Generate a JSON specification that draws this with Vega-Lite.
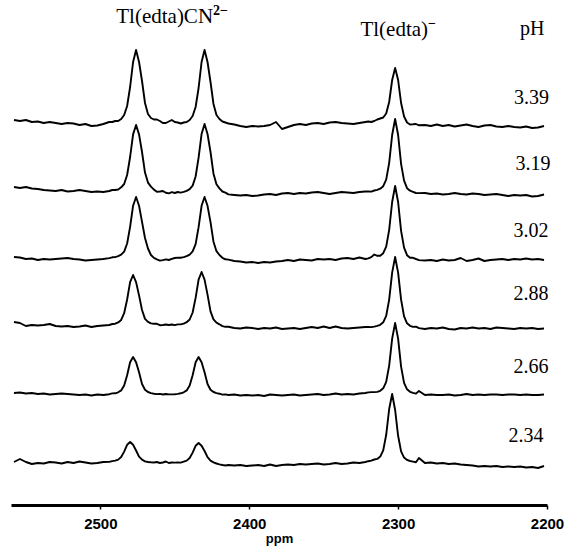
{
"$schema": "https://vega.github.io/schema/vega-lite/v6.json",
"width": 536, "height": 505,
"autosize": {"type": "none"},
"padding": {"left": 11, "top": 0, "right": 20, "bottom": 41},
"background": "white",
"config": {"view": {"stroke": null}},
"encoding": {
  "x": {"field": "x", "type": "quantitative",
    "scale": {"domain": [2200, 2560], "reverse": true, "nice": false, "zero": false},
    "axis": {"values": [2500, 2400, 2300, 2200], "format": "d", "title": "ppm", "grid": false,
      "domainColor": "black", "domainWidth": 3, "tickColor": "black", "tickSize": 4, "tickWidth": 1.5,
      "labelFont": "Liberation Sans", "labelFontSize": 15, "labelFontWeight": "bold", "labelColor": "black",
      "labelPadding": 7, "labelFlush": false, "labelOverlap": false,
      "titleFont": "Liberation Sans", "titleFontSize": 13, "titleFontWeight": "bold", "titleColor": "black", "titlePadding": 1}},
  "y": {"field": "y", "type": "quantitative", "scale": {"domain": [0, 505], "nice": false, "zero": false}, "axis": null}
},
"layer": [
  {
    "data": {"values": [
      {"x":2558,"a":385,"b":318,"c":248,"d":183,"e":112,"f":43},
      {"x":2554,"a":384,"b":317,"c":247.5,"d":182,"e":112.5,"f":46},
      {"x":2550,"a":385,"b":318,"c":246,"d":179,"e":111.5,"f":43},
      {"x":2546,"a":383,"b":316.5,"c":246.5,"d":180,"e":112,"f":41},
      {"x":2542,"a":383.5,"b":316,"c":245,"d":179.5,"e":111,"f":42},
      {"x":2538,"a":382,"b":315,"c":246,"d":180,"e":111.5,"f":41.5},
      {"x":2534,"a":383,"b":314.5,"c":245.5,"d":181,"e":110.5,"f":43},
      {"x":2530,"a":382,"b":314,"c":246,"d":179,"e":111,"f":42.5},
      {"x":2526,"a":381,"b":315,"c":246.5,"d":178.5,"e":111.5,"f":41.5},
      {"x":2522,"a":382,"b":313.5,"c":247,"d":179,"e":111,"f":43},
      {"x":2518,"a":381.5,"b":314,"c":246,"d":178,"e":110.5,"f":42},
      {"x":2514,"a":380,"b":315,"c":245.5,"d":178.5,"e":110,"f":43.5},
      {"x":2510,"a":381,"b":314,"c":244.5,"d":179.5,"e":110.5,"f":42.5},
      {"x":2506,"a":379,"b":313,"c":245,"d":178,"e":109.5,"f":41.5},
      {"x":2502,"a":379.5,"b":313.5,"c":245.5,"d":179,"e":110.5,"f":42},
      {"x":2498,"a":381,"b":313,"c":246,"d":179.5,"e":110,"f":43},
      {"x":2494,"a":383,"b":314,"c":246.9,"d":180,"e":110.8,"f":43.1},
      {"x":2492,"a":383,"b":315,"c":247.7,"d":181,"e":111.6,"f":43.9},
      {"x":2490,"a":384,"b":315,"c":247.9,"d":181.3,"e":111.7,"f":44.4},
      {"x":2488,"a":384,"b":315.5,"c":248.8,"d":182.6,"e":112.7,"f":45.4},
      {"x":2486,"a":386,"b":317.7,"c":250.3,"d":185.1,"e":114.6,"f":48},
      {"x":2484,"a":390,"b":321,"c":253.4,"d":191.8,"e":119.5,"f":53.4},
      {"x":2482,"a":399,"b":330,"c":261.5,"d":205.5,"e":129.8,"f":60.2},
      {"x":2480,"a":418,"b":348,"c":278.2,"d":222.9,"e":142.7,"f":63},
      {"x":2478,"a":443,"b":370.6,"c":299.3,"d":230,"e":148,"f":60.2},
      {"x":2476,"a":455,"b":380,"c":308,"d":222.9,"e":142.7,"f":54.5},
      {"x":2474,"a":443,"b":370.6,"c":299.3,"d":209.6,"e":132.8,"f":48.3},
      {"x":2472,"a":424,"b":353,"c":283.2,"d":195,"e":121,"f":45.3},
      {"x":2470,"a":402,"b":332.4,"c":267,"d":186.1,"e":115.3,"f":43.6},
      {"x":2468,"a":391,"b":322.4,"c":256.5,"d":183.1,"e":113,"f":43},
      {"x":2466,"a":387,"b":318.4,"c":250,"d":181.6,"e":111.9,"f":42.7},
      {"x":2464,"a":385.5,"b":315.4,"c":247.1,"d":181.3,"e":111.3,"f":42.5},
      {"x":2462,"a":385.5,"b":313.3,"c":245.7,"d":181.2,"e":110.9,"f":43},
      {"x":2460,"a":384,"b":313.5,"c":244.4,"d":179.8,"e":111.1,"f":42},
      {"x":2458,"a":382,"b":314,"c":244.9,"d":180,"e":110.5,"f":42.5},
      {"x":2456,"a":382,"b":312.2,"c":245.6,"d":180.5,"e":111,"f":43.5},
      {"x":2454,"a":383.5,"b":311.6,"c":245,"d":180,"e":110.6,"f":42},
      {"x":2452,"a":385,"b":312.8,"c":246.2,"d":180.5,"e":110.6,"f":42.5},
      {"x":2450,"a":383,"b":312,"c":247,"d":179.8,"e":110.8,"f":42.4},
      {"x":2448,"a":382.5,"b":313,"c":247.4,"d":180.6,"e":111.1,"f":42.6},
      {"x":2446,"a":381.5,"b":312.4,"c":247.3,"d":180.6,"e":111.7,"f":42.4},
      {"x":2444,"a":382.5,"b":313.1,"c":247.9,"d":181.4,"e":112.7,"f":43.4},
      {"x":2442,"a":383,"b":314.2,"c":248.8,"d":182.8,"e":114.6,"f":44.4},
      {"x":2440,"a":385,"b":315.9,"c":250.4,"d":185.5,"e":119.5,"f":47},
      {"x":2438,"a":389,"b":319.4,"c":253.6,"d":192.5,"e":129.8,"f":52.4},
      {"x":2436,"a":398,"b":328.5,"c":260.8,"d":207.1,"e":142.7,"f":59.2},
      {"x":2434,"a":417,"b":347.4,"c":277.8,"d":225.4,"e":148,"f":62},
      {"x":2432,"a":443,"b":371,"c":299.2,"d":233,"e":142.7,"f":59.2},
      {"x":2430,"a":455,"b":381,"c":308,"d":225.4,"e":132.8,"f":54},
      {"x":2428,"a":443,"b":371,"c":299.2,"d":210.4,"e":121,"f":47.8},
      {"x":2426,"a":423,"b":353,"c":282.8,"d":193.7,"e":115.3,"f":44.3},
      {"x":2424,"a":401,"b":331.3,"c":263.3,"d":185.6,"e":113,"f":42.6},
      {"x":2422,"a":390,"b":320.8,"c":253.8,"d":182.3,"e":111.9,"f":41.5},
      {"x":2420,"a":386,"b":316.6,"c":250,"d":180.7,"e":111.3,"f":40.7},
      {"x":2418,"a":383.5,"b":313.5,"c":247.2,"d":178.9,"e":110.4,"f":40},
      {"x":2416,"a":382.5,"b":312.4,"c":245.7,"d":178.2,"e":110.6,"f":39.5},
      {"x":2414,"a":381.5,"b":310.6,"c":245.4,"d":178.3,"e":110,"f":40},
      {"x":2410,"a":380.5,"b":310,"c":244,"d":177,"e":110.5,"f":39.5},
      {"x":2406,"a":379,"b":309.5,"c":243.5,"d":176.5,"e":109.5,"f":40},
      {"x":2402,"a":378,"b":310,"c":242.5,"d":177.5,"e":110,"f":39},
      {"x":2398,"a":379,"b":309,"c":243,"d":177,"e":109.5,"f":39.5},
      {"x":2394,"a":378.5,"b":309.5,"c":242,"d":176,"e":110,"f":40},
      {"x":2390,"a":379,"b":310.5,"c":243,"d":177,"e":109,"f":39},
      {"x":2386,"a":380,"b":311,"c":242.5,"d":176.5,"e":110.5,"f":40.5},
      {"x":2382,"a":383,"b":310,"c":243.5,"d":177.5,"e":110,"f":39},
      {"x":2378,"a":376,"b":311.5,"c":244,"d":176,"e":109.5,"f":40},
      {"x":2374,"a":378,"b":312,"c":245,"d":176.5,"e":110,"f":40.5},
      {"x":2370,"a":380,"b":311,"c":244,"d":177,"e":110.5,"f":40},
      {"x":2366,"a":381,"b":312,"c":245.5,"d":176,"e":109.5,"f":41},
      {"x":2362,"a":380,"b":311.5,"c":245,"d":177,"e":110,"f":40.5},
      {"x":2358,"a":381.5,"b":312.5,"c":244.5,"d":178,"e":110.5,"f":41},
      {"x":2354,"a":382,"b":313,"c":246,"d":177,"e":111,"f":41.5},
      {"x":2350,"a":381,"b":312,"c":245.5,"d":178.5,"e":110,"f":40.5},
      {"x":2346,"a":382.5,"b":311,"c":246,"d":177,"e":110.5,"f":41},
      {"x":2342,"a":383,"b":312,"c":245,"d":178.5,"e":111.5,"f":42},
      {"x":2338,"a":382,"b":313,"c":246.5,"d":177,"e":110.5,"f":41},
      {"x":2334,"a":381.5,"b":312.5,"c":247,"d":176.5,"e":111,"f":41.5},
      {"x":2330,"a":381,"b":312,"c":246,"d":177,"e":110.5,"f":42.5},
      {"x":2326,"a":382,"b":313,"c":247.5,"d":177.5,"e":111.5,"f":42},
      {"x":2322,"a":383,"b":313.5,"c":246,"d":178,"e":112,"f":43},
      {"x":2320,"a":383.5,"b":313.6,"c":246.6,"d":178.1,"e":112.6,"f":43.8},
      {"x":2318,"a":383,"b":313.4,"c":247.9,"d":177.9,"e":112.9,"f":44.4},
      {"x":2316,"a":384,"b":314.5,"c":250.5,"d":178.4,"e":112.9,"f":45.5},
      {"x":2314,"a":385.5,"b":315.2,"c":249.2,"d":179.1,"e":113.1,"f":46.1},
      {"x":2312,"a":386.5,"b":316.3,"c":249.3,"d":180.2,"e":114.2,"f":48.4},
      {"x":2310,"a":387.5,"b":318.8,"c":251.8,"d":182.7,"e":116.7,"f":54.6},
      {"x":2308,"a":391.5,"b":325.4,"c":258.4,"d":189.1,"e":123.1,"f":70.2},
      {"x":2306,"a":403,"b":342.2,"c":275.2,"d":205.4,"e":139.4,"f":96},
      {"x":2304,"a":425,"b":370,"c":303,"d":232.4,"e":166.4,"f":111},
      {"x":2302,"a":437,"b":386,"c":319,"d":248,"e":182,"f":95},
      {"x":2300,"a":425,"b":370,"c":303,"d":232.4,"e":166.4,"f":69.2},
      {"x":2298,"a":402,"b":341.2,"c":274.2,"d":205.4,"e":138.4,"f":53.6},
      {"x":2296,"a":388.5,"b":324.4,"c":257.4,"d":188.6,"e":122.1,"f":47.4},
      {"x":2294,"a":382.5,"b":316.8,"c":249.8,"d":181.7,"e":115.7,"f":45.1},
      {"x":2292,"a":380.5,"b":314.3,"c":247.3,"d":179.2,"e":113.2,"f":44},
      {"x":2290,"a":380.7,"b":313.2,"c":247.2,"d":178.1,"e":112.1,"f":43.4},
      {"x":2288,"a":381,"b":312,"c":246,"d":178.4,"e":111.4,"f":42.8},
      {"x":2286,"a":379.7,"b":311.9,"c":244.9,"d":176.9,"e":114,"f":47},
      {"x":2282,"a":380,"b":312,"c":244.5,"d":176,"e":110,"f":42},
      {"x":2278,"a":379,"b":311,"c":245,"d":177,"e":110.5,"f":42.5},
      {"x":2274,"a":380.5,"b":311.5,"c":244,"d":176.5,"e":110,"f":41.5},
      {"x":2270,"a":379,"b":310.5,"c":245.5,"d":177.5,"e":110,"f":42},
      {"x":2266,"a":380,"b":311,"c":244.5,"d":176,"e":110.5,"f":41},
      {"x":2262,"a":378.5,"b":312,"c":245,"d":175.5,"e":109.5,"f":41.5},
      {"x":2258,"a":379.5,"b":311,"c":247,"d":177,"e":110,"f":40.5},
      {"x":2254,"a":380.5,"b":310.5,"c":244,"d":176.5,"e":111,"f":40},
      {"x":2250,"a":379,"b":311.5,"c":245,"d":177.5,"e":110,"f":39.5},
      {"x":2246,"a":378,"b":311,"c":246.5,"d":176.5,"e":110.5,"f":38.5},
      {"x":2242,"a":379.5,"b":310,"c":244,"d":177,"e":110,"f":39},
      {"x":2238,"a":380,"b":310.5,"c":245,"d":176,"e":110.5,"f":38.5},
      {"x":2234,"a":378.5,"b":311,"c":245.5,"d":177.5,"e":110.5,"f":39},
      {"x":2230,"a":378,"b":310,"c":246,"d":177,"e":110,"f":38},
      {"x":2226,"a":379,"b":309,"c":245,"d":176.5,"e":110.5,"f":38.5},
      {"x":2222,"a":378,"b":310,"c":246,"d":176,"e":110.5,"f":38},
      {"x":2218,"a":377.5,"b":309.5,"c":245.5,"d":177,"e":110,"f":38.5},
      {"x":2214,"a":378.5,"b":310,"c":246.5,"d":176.5,"e":110.5,"f":37.5},
      {"x":2210,"a":377,"b":308.5,"c":245.5,"d":177,"e":110,"f":38},
      {"x":2206,"a":377.5,"b":309,"c":246,"d":176,"e":110,"f":37},
      {"x":2202,"a":379,"b":310.5,"c":245,"d":176.5,"e":110.5,"f":39}
    ]},
    "transform": [{"fold": ["a", "b", "c", "d", "e", "f"], "as": ["s", "y"]}],
    "mark": {"type": "line", "color": "black", "strokeWidth": 1.9, "strokeJoin": "round"},
    "encoding": {"detail": {"field": "s", "type": "nominal"}}
  },
  {
    "data": {"values": [
      {"x": 2210.4, "y": 401, "t": "3.39"},
      {"x": 2209.4, "y": 335, "t": "3.19"},
      {"x": 2210.8, "y": 268, "t": "3.02"},
      {"x": 2210.8, "y": 205, "t": "2.88"},
      {"x": 2210.8, "y": 132, "t": "2.66"},
      {"x": 2214.1, "y": 63, "t": "2.34"},
      {"x": 2210, "y": 470, "t": "pH"}
    ]},
    "mark": {"type": "text", "font": "Liberation Serif", "fontSize": 20, "align": "center", "baseline": "alphabetic", "color": "black"},
    "encoding": {"text": {"field": "t", "type": "nominal"}}
  },
  {
    "data": {"values": [
      {"x": 2424.3, "y": 482.5, "t": "Tl(edta)CN"},
      {"x": 2279.9, "y": 469, "t": "Tl(edta)"}
    ]},
    "mark": {"type": "text", "font": "Liberation Serif", "fontSize": 21, "align": "right", "baseline": "alphabetic", "color": "black"},
    "encoding": {"text": {"field": "t", "type": "nominal"}}
  },
  {
    "data": {"values": [
      {"x": 2424.3, "y": 482.5, "t": "2−"},
      {"x": 2279.9, "y": 469, "t": "−"}
    ]},
    "mark": {"type": "text", "font": "Liberation Serif", "fontSize": 14, "fontWeight": "bold", "align": "left", "baseline": "alphabetic", "dy": -8, "color": "black"},
    "encoding": {"text": {"field": "t", "type": "nominal"}}
  }
]
}
